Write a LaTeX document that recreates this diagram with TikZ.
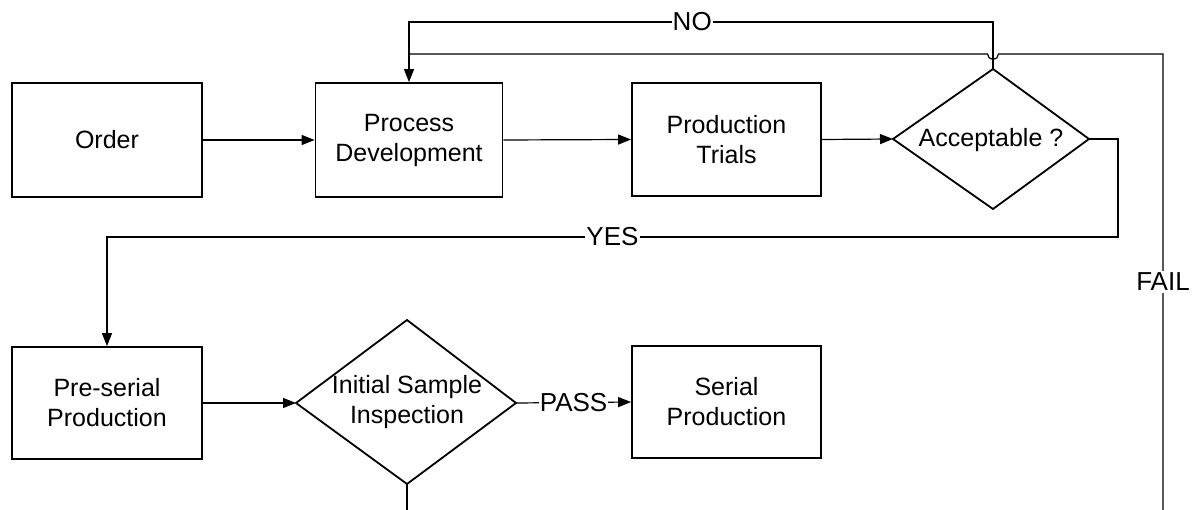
\documentclass[tikz,border=0pt]{standalone}
\usepackage{fontspec}
\setmainfont{Liberation Sans}
\usetikzlibrary{shapes.geometric,arrows.meta}
\begin{document}
\begin{tikzpicture}[x=1pt,y=-1pt,
  every node/.style={font=\fontsize{25}{30}\selectfont, align=center, inner sep=0pt},
  procbox/.style={draw, line width=1.8pt, rectangle},
  conn/.style={line width=1.2pt},
  arr/.style={conn, -{Triangle[length=13pt,width=10pt]}},
  lab/.style={fill=white, inner xsep=1pt, inner ysep=2pt, font=\fontsize{26}{30}\selectfont}]
\useasboundingbox (0,0) rectangle (1199,510);
% nodes
\node[procbox, minimum width=190pt, minimum height=114pt] (order) at (107,140) {Order};
\node[procbox, minimum width=187pt, minimum height=114pt] (pd) at (409,140) {Process\\Development};
\node[procbox, minimum width=189pt, minimum height=113pt] (pt) at (726.5,139.5) {Production\\Trials};
\draw[line width=1.8pt] (893,139) coordinate (accw) -- (993,69) coordinate (accn) -- (1089,139) coordinate (acce) -- (993,209) coordinate (accs) -- cycle;
\node (acc) at (991,140) {Acceptable ?};
\node[procbox, minimum width=190pt, minimum height=112pt] (ps) at (107,403) {Pre-serial\\Production};
\draw[line width=1.8pt] (296,403) coordinate (isw) -- (407,320) coordinate (isn) -- (516,403) coordinate (ise) -- (407,484) coordinate (iss) -- cycle;
\node (is) at (407,402) {Initial Sample\\Inspection};
\node[procbox, minimum width=189pt, minimum height=112pt] (sp) at (726.5,402) {Serial\\Production};
% free ends at the page edge
\coordinate (isout) at (407,510);
\coordinate (failin) at (1163,510);
% connectors
\draw[arr] (order.east) -- (pd.west);
\draw[arr] (pd.east) -- (pt.west);
\draw[arr] (pt.east) -- (accw);
\draw[arr] (accn) -- (993,22) -- node[lab, pos=0.515]{NO} (409,22) -- (pd.north);
\draw[conn] (failin) -- node[lab]{FAIL} (1163,54) -- (998.5,54) arc (0:180:5.5) -- (409,54);
\draw[arr] (acce) -- (1118,139) -- (1118,237) -- node[lab]{YES} (107,237) -- (ps.north);
\draw[arr] (ps.east) -- (isw);
\draw[arr] (ise) -- node[lab]{PASS} (sp.west);
\draw[conn] (iss) -- (isout);
\end{tikzpicture}
\end{document}
